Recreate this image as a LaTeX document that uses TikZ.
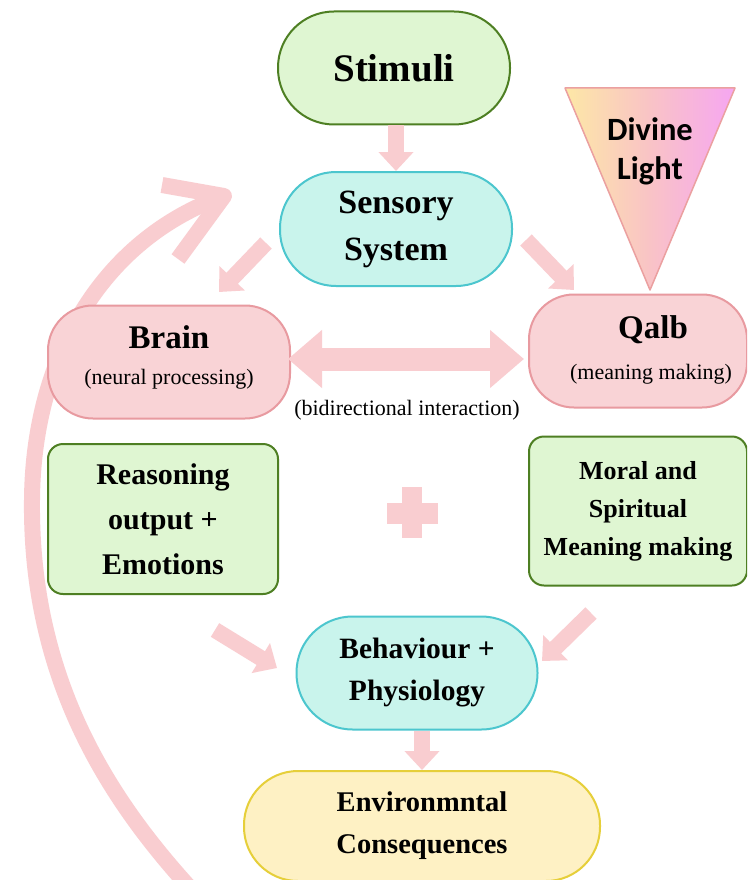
\documentclass[tikz,border=0pt]{standalone}
\usepackage{fontspec}
\setmainfont{Liberation Serif}
\newfontfamily\carlito{Carlito}
\usetikzlibrary{arrows.meta,calc}
\definecolor{arr}{HTML}{F9CDD0}
\definecolor{gfill}{HTML}{DFF6D2}
\definecolor{gdraw}{HTML}{4E7F23}
\definecolor{cfill}{HTML}{C9F4EC}
\definecolor{cdraw}{HTML}{4CC6CE}
\definecolor{pfill}{HTML}{F9D3D6}
\definecolor{pdraw}{HTML}{E89AA0}
\definecolor{yfill}{HTML}{FEF1C4}
\definecolor{ydraw}{HTML}{E6CF3A}
\definecolor{tleft}{HTML}{FDE8A6}
\definecolor{tmid}{HTML}{F9C3C6}
\definecolor{tright}{HTML}{F6A6F2}
\definecolor{tdraw}{HTML}{EBA0A0}
\begin{document}
\begin{tikzpicture}[x=1pt,y=-1pt,
  boxbase/.style={line width=2pt, inner sep=0pt, align=center},
  greenpill/.style={boxbase, draw=gdraw, fill=gfill, minimum width=232pt, minimum height=113pt, rounded corners=56pt},
  cyanpill/.style={boxbase, draw=cdraw, fill=cfill, minimum height=114pt, rounded corners=56pt},
  pinkbox/.style={boxbase, draw=pdraw, fill=pfill, rounded corners=45pt},
  greenbox/.style={boxbase, draw=gdraw, fill=gfill, rounded corners=15pt},
  yellowpill/.style={boxbase, draw=ydraw, fill=yfill, rounded corners=54pt},
  blockarrow/.style={draw=arr, line width=16pt, -{Triangle[length=19pt,width=34pt]}},
  lbl/.style={inner sep=0pt, align=center}
]
\clip (0,0) rectangle (747,880);
\fill[white] (0,0) rectangle (747,880);

% big curved feedback arrow
\coordinate (cs) at (190,888);
\coordinate (cm) at (32,500);
\coordinate (ce) at (224,196);
\coordinate (hb1) at (162,185);
\coordinate (hb2) at (178,259);
\draw[arr, line width=16pt] (cs) .. controls (110,800) and (30,680) .. (cm)
  .. controls (33,360) and (100,240) .. (ce);
\draw[arr, line width=16pt, line join=round] (hb1) -- (ce) -- (hb2);

% Divine light triangle
\coordinate (t1) at (565,88);
\coordinate (t2) at (735,88);
\coordinate (t3) at (650,290);
\shade[left color=tleft, right color=tright, middle color=tmid] (t1) -- (t2) -- (t3) -- cycle;
\draw[tdraw, line width=1.5pt, line join=round] (t1) -- (t2) -- (t3) -- cycle;
\node[lbl, font=\carlito\bfseries\fontsize{32.5}{39}\selectfont] (divine) at (650,151) {Divine\\Light};

% nodes
\node[greenpill, font=\bfseries\fontsize{39}{46}\selectfont] (stim) at (394,68) {Stimuli};
\node[cyanpill, minimum width=232pt, font=\bfseries\fontsize{34}{47}\selectfont] (sens) at (396,229) {Sensory\\System};

\node[pinkbox, minimum width=242pt, minimum height=113pt] (brain) at (169,362) {};
\node[lbl, font=\bfseries\fontsize{33}{40}\selectfont] (brainT) at (169,337) {Brain};
\node[lbl, font=\fontsize{22}{26}\selectfont] (brainS) at (169,379) {(neural processing)};

\node[pinkbox, minimum width=218pt, minimum height=113pt] (qalb) at (638,351) {};
\node[lbl, font=\bfseries\fontsize{33}{40}\selectfont] (qalbT) at (653,330) {Qalb};
\node[lbl, font=\fontsize{22}{26}\selectfont] (qalbS) at (651,374) {(meaning making)};

\node[lbl, font=\fontsize{22}{26}\selectfont] (bidir) at (407,410) {(bidirectional interaction)};

\node[greenbox, minimum width=230pt, minimum height=150pt, font=\bfseries\fontsize{30}{45}\selectfont] (reason) at (163,519) {Reasoning\\output +\\Emotions};
\node[greenbox, minimum width=218pt, minimum height=149pt, font=\bfseries\fontsize{26}{38}\selectfont] (moral) at (638,511) {Moral and\\Spiritual\\Meaning making};

\node[cyanpill, minimum width=241pt, minimum height=113pt, font=\bfseries\fontsize{29.5}{42}\selectfont] (behav) at (417,673) {Behaviour +\\Physiology};
\node[yellowpill, minimum width=356pt, minimum height=110pt, font=\bfseries\fontsize{28.5}{42}\selectfont] (env) at (422,826) {Environmntal\\Consequences};

% plus sign
\fill[arr] (402,487) rectangle (422,538);
\fill[arr] (387,503) rectangle (438,524);

% block arrows
\draw[blockarrow] (stim.south -| sens.north) -- (sens.north);
\draw[blockarrow] (behav.south -| env.north) -- (env.north);

\coordinate (sb1) at (266,243);
\coordinate (sb2) at (219,292);
\draw[blockarrow] (sb1) -- (sb2);
\coordinate (sq1) at (526,240);
\coordinate (sq2) at (574,290);
\draw[blockarrow] (sq1) -- (sq2);
\coordinate (rb1) at (215,630);
\coordinate (rb2) at (277,668);
\draw[blockarrow] (rb1) -- (rb2);
\coordinate (mb1) at (591,613);
\coordinate (mb2) at (542,661);
\draw[blockarrow] (mb1) -- (mb2);

\coordinate (bq1) at (288,359);
\coordinate (bq2) at (524,359);
\draw[draw=arr, line width=23pt, {Triangle[length=34pt,width=56pt]}-{Triangle[length=34pt,width=56pt]}] (bq1) -- (bq2);
\end{tikzpicture}
\end{document}
